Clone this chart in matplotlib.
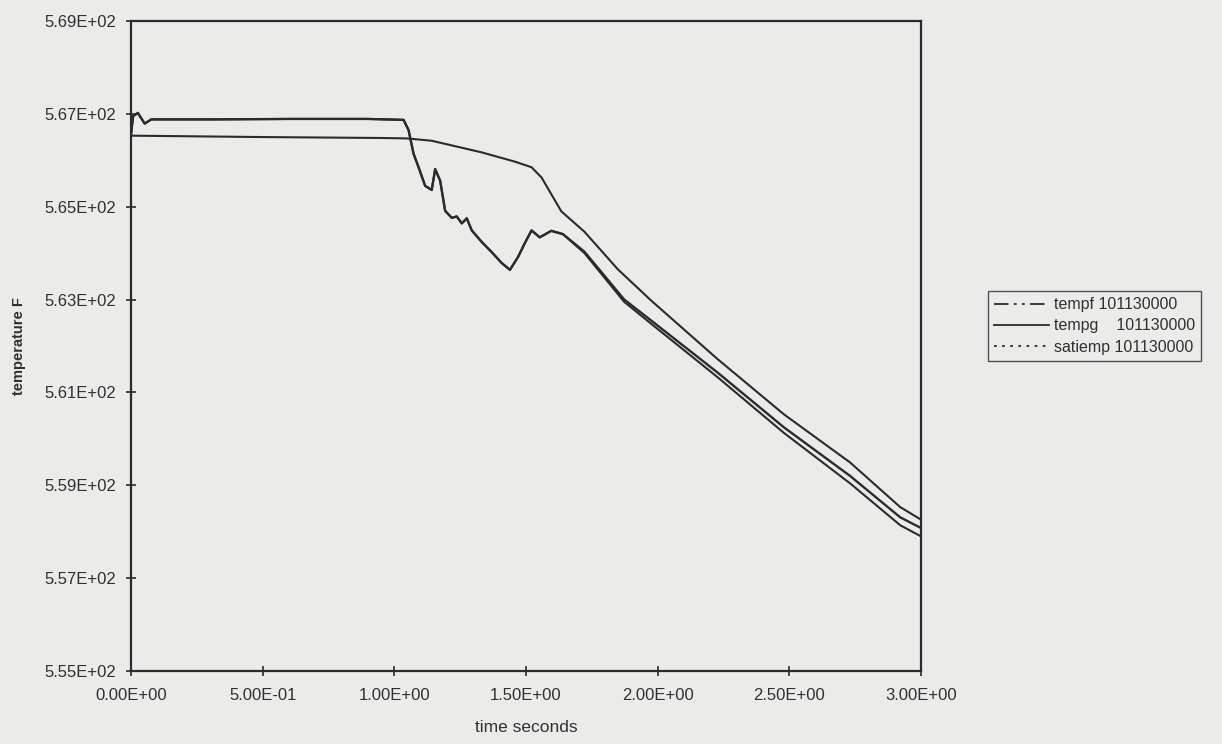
import numpy as np
import matplotlib.pyplot as plt
from matplotlib.lines import Line2D

# transient readings, volume 101130000
t_g = [0.0, 0.008, 0.026, 0.052, 0.077, 0.3, 0.6, 0.9, 1.035, 1.054, 1.073,
       1.092, 1.117, 1.142, 1.155, 1.174, 1.193, 1.218, 1.237, 1.256, 1.275,
       1.294, 1.332, 1.370, 1.407, 1.439, 1.470, 1.495, 1.521, 1.552, 1.596,
       1.640, 1.722, 1.873, 1.975, 2.227, 2.479, 2.731, 2.921, 3.0]
tempg = [566.55, 566.95, 567.02, 566.79, 566.88, 566.88, 566.89, 566.89,
         566.87, 566.65, 566.14, 565.85, 565.45, 565.36, 565.81, 565.56,
         564.91, 564.76, 564.79, 564.64, 564.75, 564.49, 564.24, 564.02,
         563.79, 563.64, 563.92, 564.21, 564.49, 564.34, 564.48, 564.41,
         564.03, 563.00, 562.55, 561.43, 560.25, 559.20, 558.31, 558.08]
satiemp = [566.55, 566.95, 567.02, 566.79, 566.88, 566.88, 566.89, 566.89,
           566.87, 566.65, 566.14, 565.85, 565.45, 565.36, 565.81, 565.56,
           564.91, 564.76, 564.79, 564.64, 564.75, 564.49, 564.24, 564.02,
           563.79, 563.64, 563.92, 564.21, 564.49, 564.34, 564.48, 564.41,
           564.00, 562.95, 562.48, 561.33, 560.13, 559.04, 558.14, 557.90]

t_f = [0.0, 0.5, 0.953, 1.05, 1.142, 1.332, 1.458, 1.521, 1.559, 1.596,
       1.634, 1.722, 1.849, 1.975, 2.227, 2.479, 2.731, 2.921, 3.0]
tempf = [566.53, 566.50, 566.48, 566.47, 566.42, 566.17, 565.97, 565.85,
         565.63, 565.27, 564.90, 564.46, 563.65, 562.98, 561.72, 560.53,
         559.49, 558.53, 558.26]

x_ticks = [0.0, 0.5, 1.0, 1.5, 2.0, 2.5, 3.0]
x_labels = ['0.00E+00', '5.00E-01', '1.00E+00', '1.50E+00', '2.00E+00',
            '2.50E+00', '3.00E+00']
y_ticks = [555, 557, 559, 561, 563, 565, 567, 569]
y_labels = ['5.55E+02', '5.57E+02', '5.59E+02', '5.61E+02', '5.63E+02',
            '5.65E+02', '5.67E+02', '5.69E+02']

plt.rcParams['font.family'] = ['Liberation Sans', 'DejaVu Sans']
paper = '#ebebea'
ink = '#2b2b2b'
text_c = '#303030'

fig = plt.figure(figsize=(12.22, 7.44), dpi=100, facecolor=paper)
ax = fig.add_axes([0.1072, 0.0981, 0.6465, 0.8737], facecolor=paper)

ax.plot(t_f, tempf, color=ink, lw=1.5)
ax.plot(t_g, tempg, color=ink, lw=1.7)
ax.plot(t_g, satiemp, color=ink, lw=1.5)

ax.set_xlim(0, 3)
ax.set_ylim(555, 569)
ax.set_xticks(x_ticks)
ax.set_xticklabels(x_labels)
ax.set_yticks(y_ticks)
ax.set_yticklabels(y_labels)
ax.tick_params(direction='inout', length=7, width=1.2, color=ink,
               labelsize=12, labelcolor=text_c)
ax.tick_params(axis='y', pad=7)
ax.tick_params(axis='x', pad=9)
for s in ax.spines.values():
    s.set_color(ink)
    s.set_linewidth(1.6)

ax.set_xlabel('time seconds', fontsize=12.5, color=text_c, labelpad=12)
ax.set_ylabel('temperature F', fontsize=10.5, color=text_c,
              fontweight='bold')
ax.yaxis.set_label_coords(-0.133, 0.5)

handles = [
    Line2D([], [], color=ink, lw=1.3, linestyle=(0, (8, 3, 1.5, 3, 1.5, 3))),
    Line2D([], [], color=ink, lw=1.3),
    Line2D([], [], color=ink, lw=1.3, linestyle=(0, (1.5, 3))),
]
names = ['tempf 101130000', 'tempg    101130000', 'satiemp 101130000']
leg = fig.legend(handles, names, loc='upper left',
                 bbox_to_anchor=(0.802, 0.620), fontsize=11.5,
                 handlelength=3.4, handletextpad=0.3, borderpad=0.4,
                 labelspacing=0.4, fancybox=False, frameon=True,
                 facecolor=paper, edgecolor=ink)
leg.get_frame().set_linewidth(1.0)
for txt in leg.get_texts():
    txt.set_color(text_c)

fig.savefig('out.png', dpi=100, facecolor=paper)
